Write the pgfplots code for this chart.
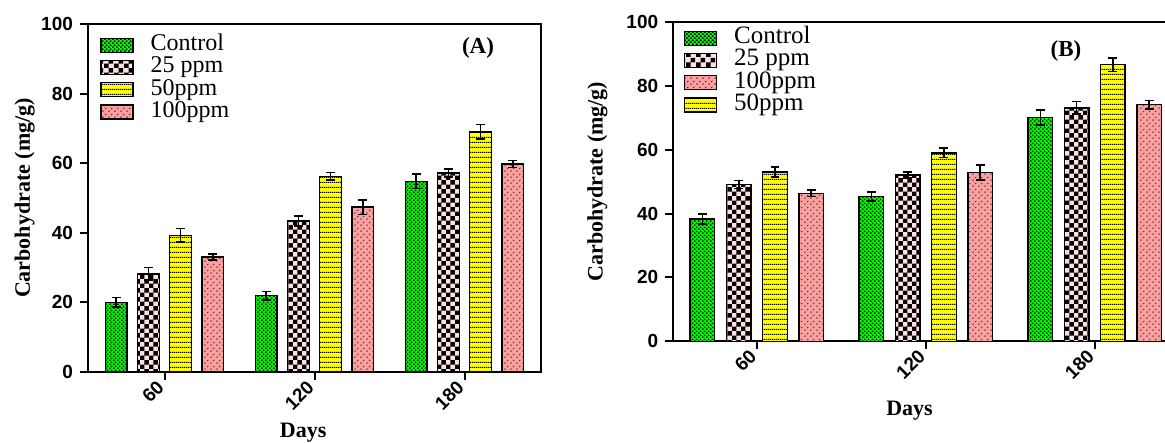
\documentclass[border=0pt]{standalone}
\usepackage{fontspec}
\setmainfont{Liberation Serif}
\newfontfamily\arial{Liberation Sans}
\usepackage{pgfplots}
\pgfplotsset{compat=1.18}
\usetikzlibrary{patterns}

\definecolor{cgreen}{HTML}{00FF00}
\definecolor{cchk}{HTML}{FFE0E0}
\definecolor{cyel}{HTML}{FFFF00}
\definecolor{cpink}{HTML}{FFA0A0}

% bar fill patterns
\pgfdeclarepatternformonly{gdots}{\pgfqpoint{0pt}{0pt}}{\pgfqpoint{2.2pt}{2.2pt}}{\pgfqpoint{2.2pt}{2.2pt}}{%
  \pgfpathrectangle{\pgfqpoint{0pt}{0pt}}{\pgfqpoint{0.85pt}{0.85pt}}%
  \pgfpathrectangle{\pgfqpoint{1.1pt}{1.1pt}}{\pgfqpoint{0.85pt}{0.85pt}}%
  \pgfusepath{fill}}
\pgfdeclarepatternformonly{chk}{\pgfqpoint{0pt}{0pt}}{\pgfqpoint{4.7pt}{4.7pt}}{\pgfqpoint{4.7pt}{4.7pt}}{%
  \pgfpathrectangle{\pgfqpoint{0pt}{0pt}}{\pgfqpoint{2.36pt}{2.36pt}}%
  \pgfpathrectangle{\pgfqpoint{2.35pt}{2.35pt}}{\pgfqpoint{2.36pt}{2.36pt}}%
  \pgfusepath{fill}}
\pgfdeclarepatternformonly{hl}{\pgfqpoint{0pt}{0pt}}{\pgfqpoint{1pt}{2.35pt}}{\pgfqpoint{1pt}{2.35pt}}{%
  \pgfpathrectangle{\pgfqpoint{0pt}{0pt}}{\pgfqpoint{1.01pt}{0.65pt}}%
  \pgfusepath{fill}}
\pgfdeclarepatternformonly{pk}{\pgfqpoint{0pt}{0pt}}{\pgfqpoint{3pt}{2.8pt}}{\pgfqpoint{3pt}{2.8pt}}{%
  \pgfpathmoveto{\pgfqpoint{0pt}{0.9pt}}\pgfpathlineto{\pgfqpoint{0.6pt}{0pt}}%
  \pgfpathlineto{\pgfqpoint{1.2pt}{0.9pt}}\pgfpathlineto{\pgfqpoint{0.6pt}{0.4pt}}\pgfpathclose
  \pgfpathmoveto{\pgfqpoint{1.5pt}{2.3pt}}\pgfpathlineto{\pgfqpoint{2.1pt}{1.4pt}}%
  \pgfpathlineto{\pgfqpoint{2.7pt}{2.3pt}}\pgfpathlineto{\pgfqpoint{2.1pt}{1.8pt}}\pgfpathclose
  \pgfusepath{fill}}

\pgfplotsset{
  panel/.style={
    scale only axis, anchor=south west,
    ymin=0, ymax=100, ytick={0,20,...,100},
    xtick={0,1,2}, xticklabels={60,120,180},
    tick pos=left, tick align=outside, major tick length=4pt,
    tick style={black, line width=1pt},
    axis line style={black, line width=1pt},
    /pgf/number format/assume math mode=true,
    tick label style={font=\arial\bfseries\fontsize{9.5}{10}\selectfont},
    x tick label style={rotate=45, anchor=east, inner sep=2.6pt},
    xlabel={Days}, ylabel={Carbohydrate (mg/g)},
    label style={font=\bfseries\fontsize{11}{13}\selectfont},
    legend cell align=left,
    legend style={draw=none, fill=none, anchor=north west, inner sep=0pt,
      nodes={inner sep=0.5pt, text height=7.8pt, text depth=2.3pt},
      /tikz/every odd column/.append style={column sep=8pt}},
  },
  bars/.style={ybar, bar width=0.146, bar shift=0, draw=black, line width=0.7pt,
    legend image code/.code={\draw[##1, line width=0.7pt] (0pt,-3.5pt) rectangle (16pt,3.5pt);},
    /pgfplots/error bars/y dir=both,
    /pgfplots/error bars/y explicit,
    /pgfplots/error bars/error bar style={black, line width=0.8pt},
    /pgfplots/error bars/error mark options={rotate=90, black, mark size=2.2pt, line width=0.8pt}},
  sctrl/.style={bars, fill=cgreen, postaction={pattern=gdots, pattern color=black}},
  s25/.style={bars, fill=cchk, postaction={pattern=chk, pattern color=black}},
  s50/.style={bars, fill=cyel, postaction={pattern=hl, pattern color=black}},
  s100/.style={bars, fill=cpink, postaction={pattern=pk, pattern color=black}},
}

\begin{document}
\begin{tikzpicture}
% panel A
\begin{axis}[panel, at={(0pt,0pt)},
  width=226.5pt, height=174pt, xmin=-0.51, xmax=2.51,
  xlabel style={at={(axis description cs:0.475,-0.175)}, anchor=center},
  ylabel style={at={(axis description cs:-0.14,0.5)}, anchor=center},
  legend style={at={(axis description cs:0.026,0.972)},
    font=\fontsize{12}{13}\selectfont}]
\addplot[sctrl] coordinates {(-0.322,20.0) +- (0,1.4) (0.678,21.9) +- (0,1.2) (1.678,54.8) +- (0,2.1)};
\addlegendentry{Control}
\addplot[s25] coordinates {(-0.107,28.2) +- (0,1.8) (0.893,43.4) +- (0,1.5) (1.893,57.2) +- (0,1.1)};
\addlegendentry{25 ppm}
\addplot[s50] coordinates {(0.107,39.3) +- (0,1.9) (1.107,56.2) +- (0,1.1) (2.107,69.0) +- (0,2.1)};
\addlegendentry{50ppm}
\addplot[s100] coordinates {(0.322,33.0) +- (0,0.9) (1.322,47.4) +- (0,2.1) (2.322,59.8) +- (0,1.0)};
\addlegendentry{100ppm}
\node[font=\bfseries\fontsize{11.5}{13}\selectfont] at (axis cs:2.09,93.1) {(A)};
\end{axis}
% panel B
\begin{axis}[panel, at={(292.6pt,15.35pt)},
  width=253pt, height=159.65pt, xmin=-0.495, xmax=2.5,
  xlabel style={at={(axis description cs:0.467,-0.216)}, anchor=center},
  ylabel style={at={(axis description cs:-0.15,0.5)}, anchor=center},
  legend style={at={(axis description cs:0.02,0.985)},
    font=\fontsize{12.5}{13}\selectfont}]
\addplot[sctrl] coordinates {(-0.322,38.3) +- (0,1.5) (0.678,45.4) +- (0,1.4) (1.678,70.1) +- (0,2.3)};
\addlegendentry{Control}
\addplot[s25] coordinates {(-0.107,49.1) +- (0,1.2) (0.893,52.1) +- (0,0.9) (1.893,73.1) +- (0,2.0)};
\addlegendentry{25 ppm}
\addplot[s100] coordinates {(0.322,46.3) +- (0,1.0) (1.322,52.9) +- (0,2.3) (2.322,74.1) +- (0,1.3)};
\addlegendentry{100ppm}
\addplot[s50] coordinates {(0.107,53.0) +- (0,1.6) (1.107,59.0) +- (0,1.5) (2.107,86.6) +- (0,2.1)};
\addlegendentry{50ppm}
\node[font=\bfseries\fontsize{11.5}{13}\selectfont] at (axis cs:1.83,90.8) {(B)};
\end{axis}
\pgfresetboundingbox
\useasboundingbox (-44pt,-35.5pt) rectangle (538.5pt,186pt);
\end{tikzpicture}
\end{document}
